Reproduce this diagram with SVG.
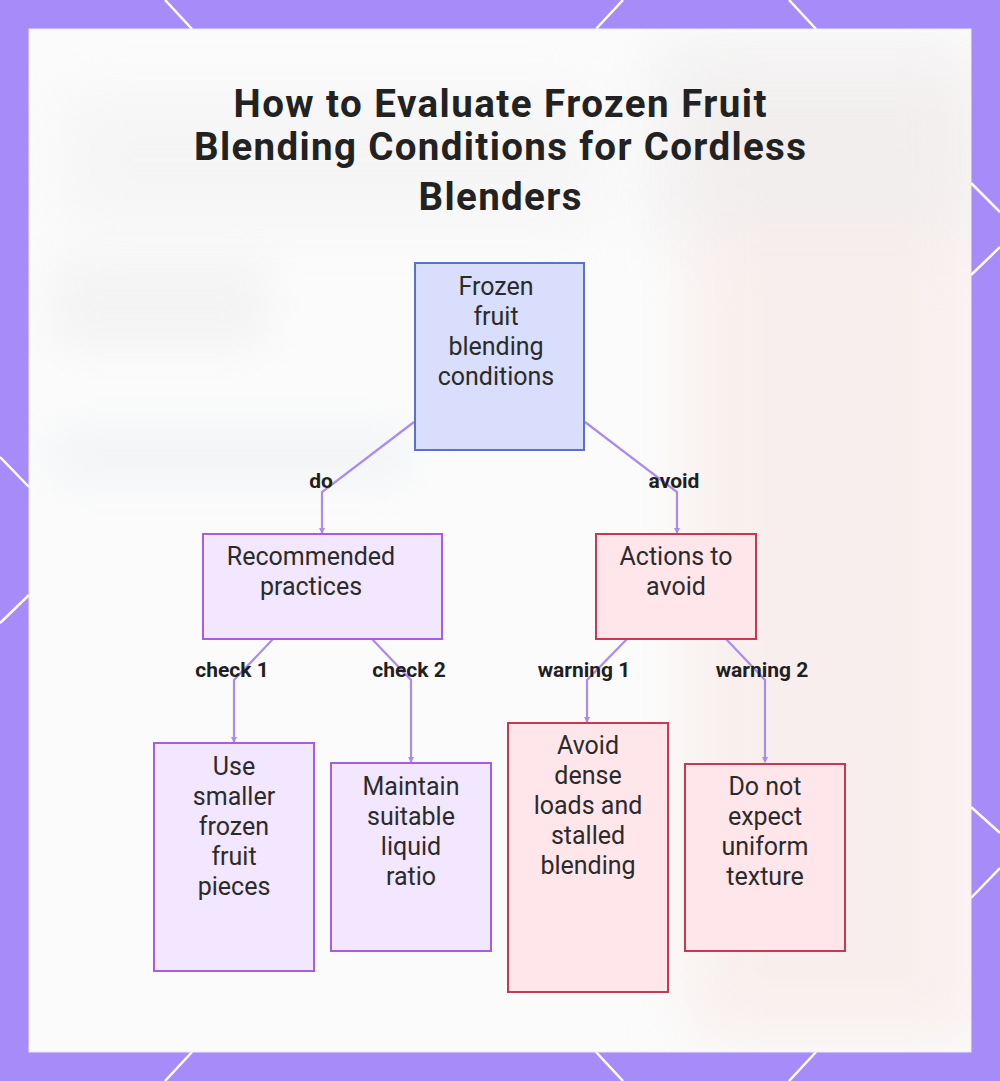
<svg xmlns="http://www.w3.org/2000/svg" width="1000" height="1081" viewBox="0 0 1000 1081">
<defs>
<style>
.bord{stroke:#ffffff;stroke-width:2.5;fill:none}
.title{font-family:Roboto,"Liberation Sans",sans-serif;font-weight:700;font-size:38.5px;fill:#222;text-anchor:middle}
.nt{font-family:Roboto,"Liberation Sans",sans-serif;font-size:25px;fill:#2b2b2b;text-anchor:middle}
.el{font-family:Roboto,"Liberation Sans",sans-serif;font-weight:700;font-size:21px;fill:#1f1f1f;text-anchor:middle}
.root{fill:#d9defc;stroke:#5a72c8;stroke-width:2}
.rec{fill:#f3e6ff;stroke:#a85ce0;stroke-width:2}
.avd{fill:#ffe6ea;stroke:#c53a52;stroke-width:2}
.con{fill:none;stroke:#a88cf0;stroke-width:2.2}
</style>
<marker id="ah" markerWidth="6" markerHeight="6" refX="5" refY="3" orient="auto" markerUnits="userSpaceOnUse">
<path d="M0,0 L6,3 L0,6 z" fill="#a88cf0"/>
</marker>
<filter id="blur" x="-50%" y="-50%" width="200%" height="200%"><feGaussianBlur stdDeviation="30"/></filter>
<filter id="blur2" x="-50%" y="-50%" width="200%" height="200%"><feGaussianBlur stdDeviation="20"/></filter>
<clipPath id="pc"><rect x="29" y="29" width="942" height="1023"/></clipPath>
</defs>
<rect x="0" y="0" width="1000" height="1081" fill="#a68cf8"/>
<g class="bord">
<line x1="165" y1="0" x2="192" y2="29"/>
<line x1="623" y1="0" x2="596" y2="29"/>
<line x1="789" y1="0" x2="816" y2="29"/>
<line x1="165" y1="1081" x2="192" y2="1052"/>
<line x1="623" y1="1081" x2="596" y2="1052"/>
<line x1="789" y1="1081" x2="816" y2="1052"/>
<line x1="0" y1="457" x2="29" y2="487"/>
<line x1="0" y1="623" x2="29" y2="595"/>
<line x1="971" y1="183" x2="1000" y2="212"/>
<line x1="971" y1="275" x2="1000" y2="247"/>
<line x1="971" y1="807" x2="1000" y2="833"/>
<line x1="971" y1="898" x2="1000" y2="868"/>
</g>
<rect x="29" y="29" width="942" height="1023" fill="#fbfbfb" stroke="#ece8fb" stroke-width="1"/>
<g clip-path="url(#pc)">
<rect x="690" y="80" width="290" height="960" fill="#f8ecea" filter="url(#blur)" opacity="0.8"/>
<rect x="650" y="40" width="320" height="200" fill="#eeeeee" filter="url(#blur)" opacity="0.6"/>
<rect x="60" y="90" width="540" height="140" fill="#efefef" filter="url(#blur)" opacity="0.45"/>
<rect x="50" y="260" width="220" height="90" fill="#ececec" filter="url(#blur2)" opacity="0.45"/>
<rect x="50" y="425" width="360" height="60" fill="#edf1f5" filter="url(#blur2)" opacity="0.6"/>
</g>
<text class="title" x="500" y="117" textLength="533">How to Evaluate Frozen Fruit</text>
<text class="title" x="500" y="160" textLength="612">Blending Conditions for Cordless</text>
<text class="title" x="500" y="210" textLength="163">Blenders</text>
<g id="connectors">
<polyline class="con" points="414,422 322,492 322,533" marker-end="url(#ah)"/>
<polyline class="con" points="585,422 677,492 677,533" marker-end="url(#ah)"/>
<polyline class="con" points="273,639 234,680 234,742" marker-end="url(#ah)"/>
<polyline class="con" points="372,639 411,680 411,762" marker-end="url(#ah)"/>
<polyline class="con" points="627,639 587,680 587,722" marker-end="url(#ah)"/>
<polyline class="con" points="726,639 765,680 765,762" marker-end="url(#ah)"/>
<text class="el" x="321" y="488">do</text>
<text class="el" x="674" y="488">avoid</text>
<text class="el" x="232" y="677">check 1</text>
<text class="el" x="409" y="677">check 2</text>
<text class="el" x="584" y="677">warning 1</text>
<text class="el" x="762" y="677">warning 2</text>
</g>
<g id="root">
<rect class="root" x="415" y="263" width="169" height="187"/>
<text class="nt" x="496" y="295">Frozen</text>
<text class="nt" x="496" y="325">fruit</text>
<text class="nt" x="496" y="355">blending</text>
<text class="nt" x="496" y="385">conditions</text>
</g>
<g id="recommended">
<rect class="rec" x="203" y="534" width="239" height="105"/>
<text class="nt" x="311" y="565">Recommended</text>
<text class="nt" x="311" y="595">practices</text>
</g>
<g id="avoidActions">
<rect class="avd" x="596" y="534" width="160" height="105"/>
<text class="nt" x="676" y="565">Actions to</text>
<text class="nt" x="676" y="595">avoid</text>
</g>
<g id="smallerPieces">
<rect class="rec" x="154" y="743" width="160" height="228"/>
<text class="nt" x="234" y="775">Use</text>
<text class="nt" x="234" y="805">smaller</text>
<text class="nt" x="234" y="835">frozen</text>
<text class="nt" x="234" y="865">fruit</text>
<text class="nt" x="234" y="895">pieces</text>
</g>
<g id="liquidRatio">
<rect class="rec" x="331" y="763" width="160" height="188"/>
<text class="nt" x="411" y="795">Maintain</text>
<text class="nt" x="411" y="825">suitable</text>
<text class="nt" x="411" y="855">liquid</text>
<text class="nt" x="411" y="885">ratio</text>
</g>
<g id="denseLoads">
<rect class="avd" x="508" y="723" width="160" height="269"/>
<text class="nt" x="588" y="754">Avoid</text>
<text class="nt" x="588" y="784">dense</text>
<text class="nt" x="588" y="814">loads and</text>
<text class="nt" x="588" y="844">stalled</text>
<text class="nt" x="588" y="874">blending</text>
</g>
<g id="uniformTexture">
<rect class="avd" x="685" y="764" width="160" height="187"/>
<text class="nt" x="765" y="795">Do not</text>
<text class="nt" x="765" y="825">expect</text>
<text class="nt" x="765" y="855">uniform</text>
<text class="nt" x="765" y="885">texture</text>
</g>
</svg>
